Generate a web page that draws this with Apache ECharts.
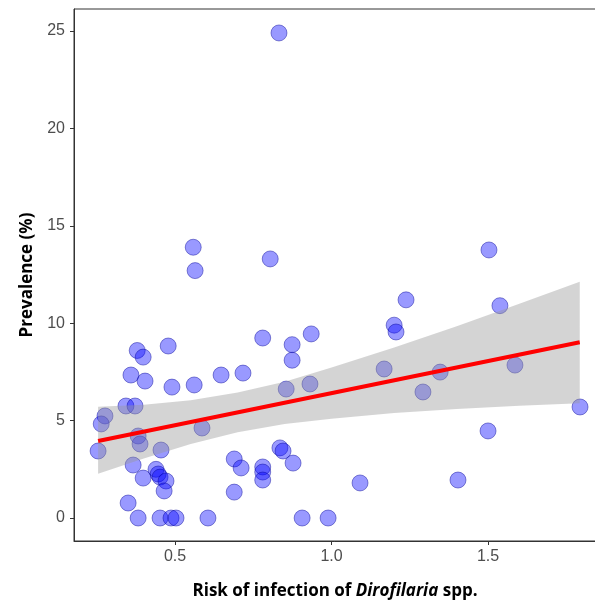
<!DOCTYPE html>
<html>
<head>
<meta charset="utf-8">
<script src="https://cdn.jsdelivr.net/npm/echarts@6/dist/echarts.min.js"></script>
<style>html,body{margin:0;padding:0;background:#fff;overflow:hidden}#c{width:595px;height:607px}</style>
</head>
<body>
<div id="c"></div>
<script>
// Scatter points: risk of infection (x) and prevalence % (y)
const riskX = [0.832,0.558,0.564,0.804,1.503,1.238,1.538,1.200,1.206,0.780,0.935,0.874,0.874,0.379,0.398,0.478,0.359,0.404,0.490,0.561,0.647,0.717,0.855,0.931,1.168,1.347,1.586,1.292,0.343,0.372,0.276,0.264,0.382,0.388,0.586,0.254,0.455,0.366,0.398,0.439,0.446,0.452,0.471,0.465,0.350,0.382,0.452,0.487,0.503,0.605,0.689,0.711,0.780,0.780,0.780,0.689,0.835,0.845,0.877,0.906,0.989,1.091,1.404,1.500,1.794];
const prevalenceY = [24.9,13.9,12.7,13.3,13.76,11.2,10.9,9.9,9.55,9.24,9.45,8.9,8.1,8.6,8.26,8.83,7.34,7.03,6.72,6.83,7.34,7.44,6.62,6.88,7.65,7.49,7.85,6.47,5.75,5.75,5.24,4.83,4.21,3.8,4.62,3.44,3.49,2.72,2.05,2.5,2.26,2.1,1.9,1.39,0.77,0,0,0,0,0,3.03,2.57,2.62,2.36,1.95,1.33,3.6,3.44,2.82,0,0,1.8,1.95,4.47,5.7];
// Fitted line end points
const fitX = [0.254, 1.793];
const fitY = [3.95, 9.02];
// Confidence band
const bandX = [0.254,0.4,0.55,0.7,0.85,1.0,1.2,1.4,1.6,1.793];
const bandLower = [2.27,3.05,3.80,4.40,4.83,5.09,5.39,5.60,5.76,5.89];
const bandUpper = [5.71,5.81,6.04,6.44,6.99,7.73,8.75,9.84,11.00,12.13];
// Tick labels
const xTicks = [0.5, 1.0, 1.5];
const yTicks = [0, 5, 10, 15, 20, 25];

const points = riskX.map((x, i) => [x, prevalenceY[i]]);
const fitLine = fitX.map((x, i) => [x, fitY[i]]);
const bandData = bandX.map((x, i) => [x, bandLower[i], bandUpper[i]]);

const chart = echarts.init(document.getElementById('c'), null, {renderer: 'canvas'});
const labelStyle = {color: '#4d4d4d', fontSize: 16, fontFamily: 'Liberation Sans, Arial, sans-serif'};
chart.setOption({
  animation: false,
  grid: {left: 74, top: 9, width: 522, height: 532, show: true, borderColor: '#333', borderWidth: 1,
         containLabel: false, outerBoundsMode: 'none'},
  xAxis: {
    type: 'value', min: 0.177, max: 1.845,
    splitLine: {show: false},
    axisLine: {show: true, onZero: false, lineStyle: {color: '#333', width: 1}},
    axisTick: {show: true, length: 4, lineStyle: {color: '#333'}, customValues: xTicks},
    axisLabel: Object.assign({}, labelStyle, {margin: 8, customValues: xTicks, formatter: v => v.toFixed(1)}),
    name: '{a|Risk of infection of }{b|Dirofilaria}{a| spp.}',
    nameLocation: 'middle', nameGap: 42,
    nameTextStyle: {rich: {
      a: {fontSize: 17, fontWeight: 'bold', fontFamily: 'Open Sans, sans-serif', color: '#000'},
      b: {fontSize: 17, fontWeight: 'bold', fontStyle: 'italic', fontFamily: 'Open Sans, sans-serif', color: '#000'}
    }}
  },
  yAxis: {
    type: 'value', min: -1.18, max: 26.13,
    splitLine: {show: false},
    axisLine: {show: true, onZero: false, lineStyle: {color: '#333', width: 1}},
    axisTick: {show: true, length: 4, lineStyle: {color: '#333'}, customValues: yTicks},
    axisLabel: Object.assign({}, labelStyle, {margin: 9, customValues: yTicks}),
    name: 'Prevalence (%)', nameLocation: 'middle', nameGap: 38,
    nameTextStyle: {fontSize: 17, fontWeight: 'bold', fontFamily: 'Open Sans, sans-serif', color: '#000'}
  },
  series: [
    {
      type: 'scatter', data: points, symbolSize: 16, z: 1,
      itemStyle: {color: 'rgba(0,0,255,0.5)', borderColor: 'rgba(0,0,150,0.55)', borderWidth: 1}
    },
    {
      type: 'custom', z: 2, data: bandData, silent: true,
      renderItem: function (params, api) {
        if (params.dataIndex !== 0) return null;
        const up = bandData.map(d => api.coord([d[0], d[2]]));
        const lo = bandData.slice().reverse().map(d => api.coord([d[0], d[1]]));
        return {type: 'polygon', shape: {points: up.concat(lo)}, style: {fill: 'rgba(153,153,153,0.42)'}};
      }
    },
    {
      type: 'line', data: fitLine, z: 3, symbol: 'none',
      lineStyle: {color: '#ff0000', width: 4}
    }
  ]
});
</script>
</body>
</html>
